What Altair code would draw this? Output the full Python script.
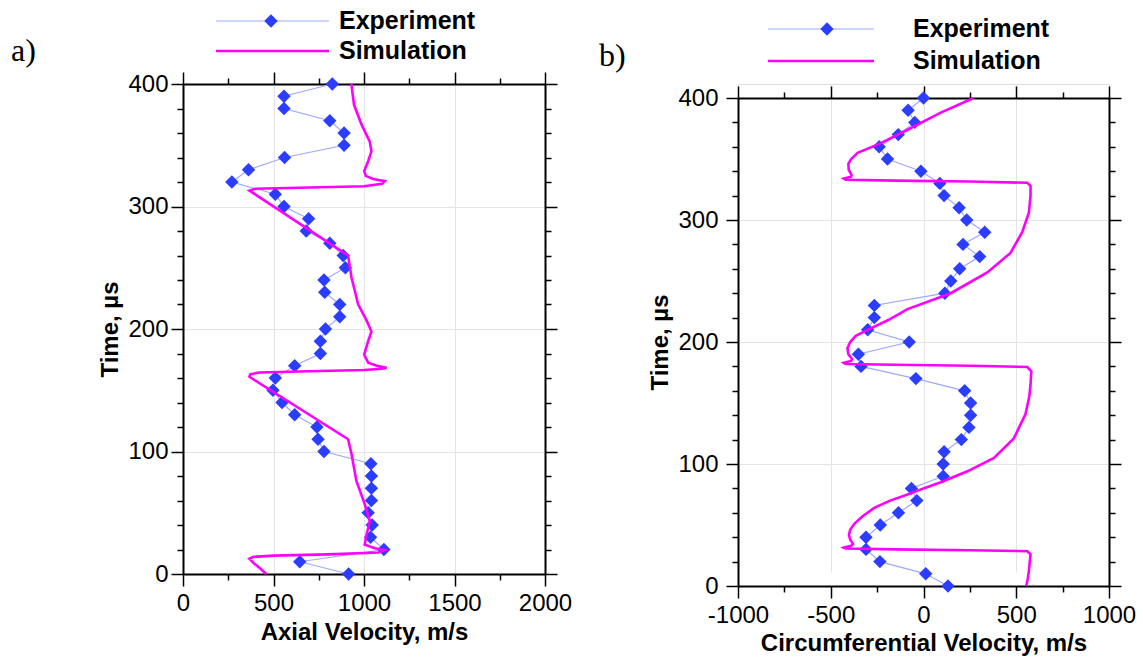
import altair as alt
import pandas as pd

# ---------------- data ----------------
time_exp = list(range(0, 401, 10))

axial_exp = [915, 645, 1110, 1036, 1045, 1023, 1041, 1041, 1041, 1038,
             779, 746, 740, 617, 547, 497, 510, 617, 759, 759,
             787, 866, 866, 783, 779, 897, 885, 811, 681, 694,
             558, 510, 270, 362, 561, 890, 890, 811, 558, 558, 825]

circ_exp = [132, 12, -235, -310, -310, -233, -135, -36, -65, 106,
            106, 111, 204, 245, 254, 254, 222, -41, -337, -351,
            -77, -301, -265, -265, 115, 147, 195, 303, 213, 330,
            233, 192, 111, 88, -14, -194, -239, -136, -47, -83, 0]

axial_sim_t = [0, 4, 9, 12.5, 14, 15, 16, 17.5, 19.5, 21, 24, 32, 43, 57, 76, 98, 110,
               161, 163, 164.5, 165.5, 166.5, 167.5, 168.3, 170, 172.5, 179, 190, 198, 207,
               220, 242, 260, 313, 314.5, 315.5, 316.5, 318.5, 320.7, 322.5, 325, 329,
               337, 345, 353, 367, 383, 400]
axial_sim_v = [460, 430, 390, 367, 390, 500, 800, 1080, 1115, 1060, 1004, 1014, 1032, 1004, 958, 931, 912,
               367, 372, 420, 700, 1000, 1100, 1125, 1070, 1023, 1001, 1023, 1041, 1014,
               968, 931, 912, 367, 400, 700, 1000, 1100, 1115, 1050, 1010, 1001,
               1023, 1041, 1032, 986, 945, 930]

circ_sim_t = [0, 6, 12, 20, 26, 28.5, 29.3, 30, 30.7, 31.5, 33, 34.5, 38, 42, 46, 51, 57, 64, 70, 75,
              80, 85, 94, 105, 121, 141, 155, 165, 176, 179.5, 180.5, 181.3, 182, 183, 184.5, 186,
              190, 195, 200, 205, 210, 218, 227, 240, 257, 273, 290, 306, 320, 328, 330.5, 331.5,
              332.3, 333, 334, 335.5, 337, 341, 346, 350, 355, 363, 374, 388, 400]
circ_sim_v = [554, 562, 568, 573, 577, 560, 250, -150, -420, -430, -390, -380, -395, -402, -395, -373, -330, -266, -180, -86,
              0, 93, 237, 380, 487, 550, 570, 577, 581, 560, 250, -150, -420, -430, -390, -385,
              -405, -410, -395, -365, -301, -190, -86, 147, 344, 469, 532, 568, 577, 577, 560, 250,
              -150, -420, -430, -390, -388, -403, -405, -390, -355, -230, -86, 93, 270]

# ---------------- styling ----------------
FONT = "Liberation Sans"
EXP_LINE = "#a0aaff"
EXP_PT = "#2b3dff"
SIM = "#ff00ff"
GRID = "#e4e4e4"


def cond(test, a, b):
    return {"condition": {"test": test, "value": a}, "value": b}


def panel(exp_v, sim_t, sim_v, xmin, xmax, xtitle, label, W, H, top, leg, ylabpad, ytitlepad,
          xlabpad, xtitlepad):
    xvals = list(range(xmin, xmax + 1, 250))
    yvals = list(range(0, 401, 20))
    xt = "datum.value % 500 === 0"
    yt = "datum.value % 100 === 0"
    xs = alt.Scale(domain=[xmin, xmax], nice=False, zero=False)
    ys = alt.Scale(domain=[0, 400], nice=False, zero=False, range=[top + H, top])
    common = dict(domainColor="black", domainWidth=2, tickColor="black", tickWidth=1.5,
                  labelOverlap=False, labelFlush=False)

    ax_b = alt.Axis(orient="bottom", values=xvals, tickSize=cond(xt, 12, 6),
                    labelExpr=f"{xt} ? toString(datum.value) : ''",
                    labelFont=FONT, labelFontSize=24, labelColor="black", labelPadding=xlabpad,
                    title=xtitle, titleFont=FONT, titleFontSize=24, titleFontWeight="bold",
                    titleColor="black", titlePadding=xtitlepad,
                    grid=True, gridColor=cond(xt, GRID, "transparent"), gridWidth=1, **common)
    ax_l = alt.Axis(orient="left", values=yvals, tickSize=cond(yt, 12, 6),
                    labelExpr=f"{yt} ? toString(datum.value) : ''",
                    labelFont=FONT, labelFontSize=24, labelColor="black", labelPadding=ylabpad,
                    title="Time, µs", titleFont=FONT, titleFontSize=24, titleFontWeight="bold",
                    titleColor="black", titlePadding=ytitlepad,
                    grid=True, gridColor=cond(yt, GRID, "transparent"), gridWidth=1, **common)
    ax_t = alt.Axis(orient="top", values=xvals, tickSize=cond(xt, 12, 6), labels=False,
                    title=None, grid=False, offset=-top, **common)
    ax_r = alt.Axis(orient="right", values=yvals, tickSize=cond(yt, 12, 6), labels=False,
                    title=None, grid=False, **common)

    exp_df = pd.DataFrame({"t": time_exp, "v": exp_v})
    sim_df = pd.DataFrame({"t": sim_t, "v": sim_v, "i": list(range(len(sim_t)))})

    exp_line = alt.Chart(exp_df).mark_line(color=EXP_LINE, strokeWidth=1.2).encode(
        x=alt.X("v:Q", scale=xs, axis=ax_b),
        y=alt.Y("t:Q", scale=ys, axis=ax_l),
        order="t:Q",
    )
    exp_pts = alt.Chart(exp_df).mark_point(shape="diamond", filled=True, size=180,
                                           color=EXP_PT, opacity=1).encode(
        x=alt.X("v:Q", scale=xs, axis=ax_t),
        y=alt.Y("t:Q", scale=ys, axis=ax_r),
    )
    sim_line = alt.Chart(sim_df).mark_line(color=SIM, strokeWidth=2.6).encode(
        x=alt.X("v:Q", scale=xs, axis=None),
        y=alt.Y("t:Q", scale=ys, axis=None),
        order="i:Q",
    )

    one = pd.DataFrame({"k": [0]})
    base = alt.Chart(one)
    lx0, lx1, dx, tx, y1, y2, labx, laby = leg
    y1 += top
    y2 += top
    laby += top
    layers = [exp_line, exp_pts, sim_line]
    layers.append(base.mark_rule(color=EXP_LINE, strokeWidth=1.2).encode(
        x=alt.value(lx0), x2=alt.value(lx1), y=alt.value(y1)))
    layers.append(base.mark_point(shape="diamond", filled=True, size=180, color=EXP_PT,
                                  opacity=1).encode(x=alt.value(dx), y=alt.value(y1)))
    layers.append(base.mark_text(text="Experiment", align="left", baseline="middle", font=FONT,
                                 fontSize=25, fontWeight="bold", color="black").encode(
        x=alt.value(tx), y=alt.value(y1)))
    layers.append(base.mark_rule(color=SIM, strokeWidth=2.6).encode(
        x=alt.value(lx0), x2=alt.value(lx1), y=alt.value(y2)))
    layers.append(base.mark_text(text="Simulation", align="left", baseline="middle", font=FONT,
                                 fontSize=25, fontWeight="bold", color="black").encode(
        x=alt.value(tx), y=alt.value(y2)))
    layers.append(base.mark_text(text=label, align="left", baseline="middle",
                                 font="Liberation Serif", fontSize=32, color="black").encode(
        x=alt.value(labx), y=alt.value(laby)))

    return alt.layer(*layers).resolve_axis(x="independent", y="independent").properties(
        width=W, height=H + top)


left = panel(axial_exp, axial_sim_t, axial_sim_v, 0, 2000, "Axial Velocity, m/s", "a)",
             362, 490, 0, (33, 146, 88, 156, -63, -33, -172, -33), 3, 5, 5, 5)
right = panel(circ_exp, circ_sim_t, circ_sim_v, -1000, 1000, "Circumferential Velocity, m/s", "b)",
              371, 488, 14, (30, 136, 89, 175, -69, -37, -139, -42), 8, 5, 5, 4)

chart = alt.hconcat(left, right, spacing=25).properties(
    padding={"left": 10, "top": 8, "right": 0, "bottom": 0}
).configure_view(stroke=None).configure(background="white")

chart.save("out.html", embed_options={"renderer": "svg", "actions": False})
